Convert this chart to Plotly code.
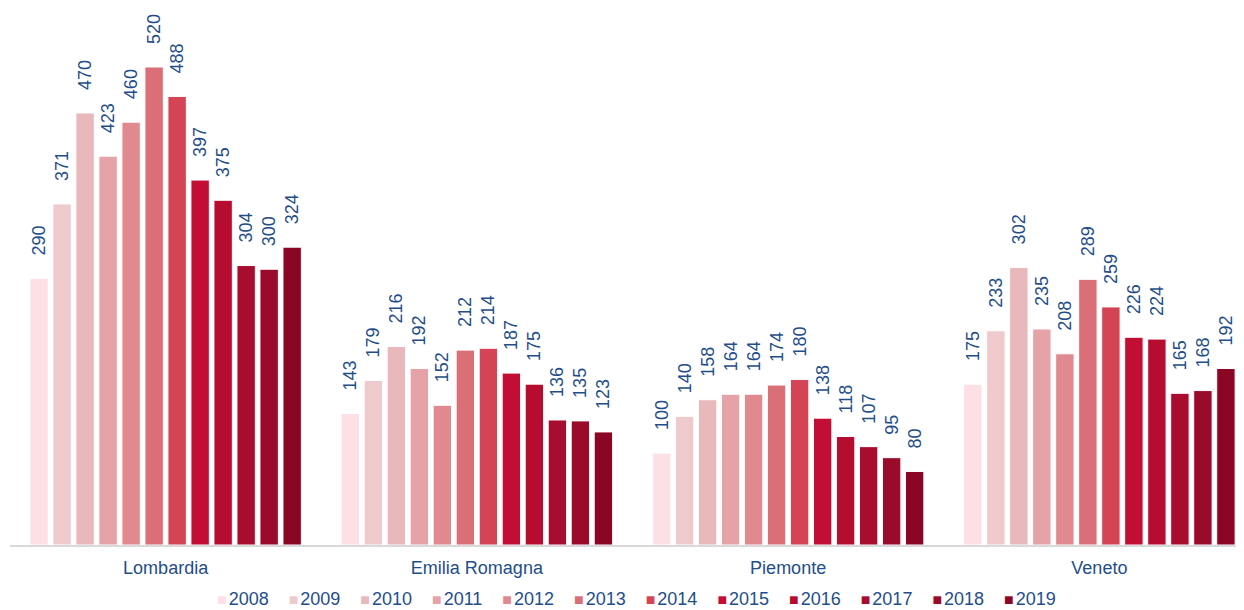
import plotly.graph_objects as go

REGIONS = ["Lombardia", "Emilia Romagna", "Piemonte", "Veneto"]
YEARS = ["2008", "2009", "2010", "2011", "2012", "2013",
         "2014", "2015", "2016", "2017", "2018", "2019"]

# values per year, in REGIONS order
VALUES = {
    "2008": [290, 143, 100, 175],
    "2009": [371, 179, 140, 233],
    "2010": [470, 216, 158, 302],
    "2011": [423, 192, 164, 235],
    "2012": [460, 152, 164, 208],
    "2013": [520, 212, 174, 289],
    "2014": [488, 214, 180, 259],
    "2015": [397, 187, 138, 226],
    "2016": [375, 175, 118, 224],
    "2017": [304, 136, 107, 165],
    "2018": [300, 135, 95, 168],
    "2019": [324, 123, 80, 192],
}

COLORS = ["#fde0e6", "#eecacd", "#e8b8bb", "#e5a3a7", "#e08a90", "#db6f78",
          "#d44455", "#c20e34", "#b60c30", "#a80c2e", "#9a0a2a", "#8a0624"]
TEXT = "#1f4e89"
FONT = "Arial, Liberation Sans, sans-serif"

fig = go.Figure()
for year, color in zip(YEARS, COLORS):
    vals = VALUES[year]
    fig.add_trace(
        go.Bar(
            x=REGIONS,
            y=vals,
            name=year,
            marker=dict(color=color, line=dict(color="white", width=1)),
            text=["\u00a0\u00a0\u00a0\u00a0" + str(v) for v in vals],
            textposition="outside",
            textangle=-90,
            textfont=dict(color=TEXT, size=18, family=FONT),
            cliponaxis=False,
            showlegend=False,
        )
    )

# compact legend (square right next to the label), built from the same lists
legend_text = "\u00a0\u00a0\u00a0\u00a0".join(
    f"<span style='color:{c};font-size:16px'>\u25a0</span>"
    f"<span style='font-size:7px'>\u00a0</span>{y}"
    for y, c in zip(YEARS, COLORS)
)
fig.add_annotation(
    text=legend_text,
    xref="paper", yref="paper",
    x=0.5, y=0,
    xanchor="center", yanchor="middle",
    xshift=4, yshift=-54,
    showarrow=False,
    font=dict(size=18, color=TEXT, family=FONT),
)

# page body has an 8px margin, so the figure is offset by (8, 8)
fig.update_layout(
    width=1247,
    height=602,
    margin=dict(l=2, r=0, t=2, b=65, autoexpand=False),
    paper_bgcolor="white",
    plot_bgcolor="white",
    barmode="group",
    bargap=0.113,
    bargroupgap=0.2,
    font=dict(family=FONT, color=TEXT, size=18),
    uniformtext=dict(minsize=18, mode="show"),
)
fig.update_xaxes(
    range=[-0.5, 3.5],
    automargin=False,
    showline=True,
    linecolor="#d9d9d9",
    linewidth=2,
    showgrid=False,
    ticklabelstandoff=5,
    tickfont=dict(size=18, color=TEXT),
)
fig.update_yaxes(range=[0, 582], visible=False, showgrid=False, zeroline=False,
                 automargin=False)

fig.write_html("out.html")
